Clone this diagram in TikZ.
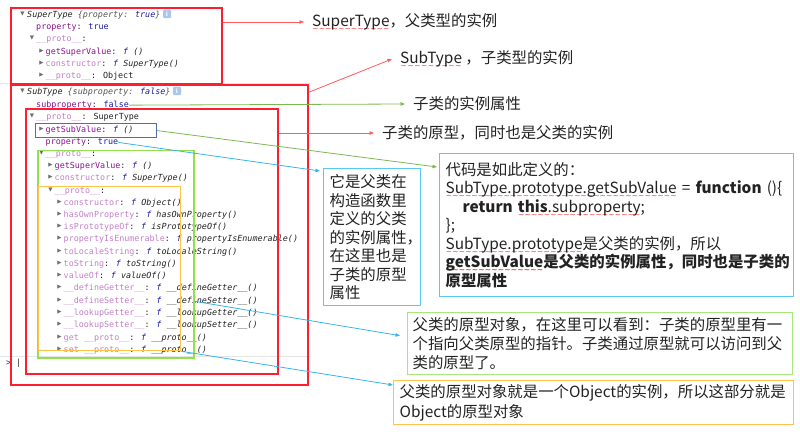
\documentclass[tikz,border=0pt]{standalone}
\usepackage{fontspec}
\usetikzlibrary{arrows.meta,calc}
\newfontfamily\cjk{Noto Sans CJK SC}
\newfontfamily\mono{DejaVu Sans Mono}
\newfontfamily\dejavu{DejaVu Sans}
\definecolor{ink}{HTML}{222222}
\definecolor{keypurple}{HTML}{881391}
\definecolor{keypink}{HTML}{C27FC6}
\definecolor{valblue}{HTML}{1A1AA6}
\definecolor{hgray}{HTML}{555555}
\definecolor{trigray}{HTML}{6E6E6E}
\definecolor{iconblue}{HTML}{A9C7EE}
\definecolor{boxred}{HTML}{FF1E2D}
\definecolor{linkred}{HTML}{FF5A60}
\definecolor{linkgreen}{HTML}{7CB850}
\definecolor{linkblue}{HTML}{36B4F0}
\definecolor{limebox}{HTML}{90E050}
\definecolor{notegreen}{HTML}{A6E87C}
\definecolor{orangebox}{HTML}{FFC24A}
\definecolor{notecyan}{HTML}{5AC8F5}
\definecolor{slatebox}{HTML}{4F6FA8}
\definecolor{sepgray}{HTML}{E4E4E4}
\definecolor{squig}{HTML}{F03A3A}
\newsavebox\sqbox
\newcommand\sperr[1]{\leavevmode\sbox\sqbox{#1}\rlap{\raisebox{-4.6pt}[0pt][0pt]{\textcolor{squig}{\hbox to \wd\sqbox{\dejavu\fontsize{7.5}{7.5}\selectfont\xleaders\hbox{∼}\hfill}}}}\usebox\sqbox}
\newcommand\pkey[1]{\textcolor{keypurple}{#1}}
\newcommand\npkey[1]{\textcolor{keypink}{#1}}
\newcommand\jsval[1]{\textcolor{valblue}{#1}}
\newcommand\jsfn[1]{\textcolor{valblue}{\textit{f}} \textit{#1}}
\begin{document}
\begin{tikzpicture}[x=1pt,y=-1pt,
  con/.style={anchor=base west, inner sep=0pt, text=ink, font=\mono\fontsize{8.4}{10}\selectfont},
  tri/.style={inner sep=0pt, text=trigray, font=\dejavu\fontsize{5.5}{6}\selectfont},
  info/.style={fill=iconblue, text=white, rounded corners=1.2pt, minimum width=8pt, minimum height=8.5pt, inner sep=0pt, font=\dejavu\bfseries\fontsize{6}{6}\selectfont},
  redbox/.style={draw=boxred, line width=2pt, anchor=north west, inner sep=0pt},
  note/.style={text=ink, font=\cjk\fontsize{15.4}{18.5}\selectfont},
  label/.style={note, anchor=west, inner xsep=8pt, inner ysep=0pt},
  notebox/.style={note, draw, line width=1.3pt, anchor=north west, align=left, inner xsep=6pt, inner ysep=2pt},
  redlink/.style={draw=linkred, line width=0.8pt, -{Triangle[length=4.5pt,width=3.5pt]}},
  greenlink/.style={draw=linkgreen, line width=0.8pt, -{Triangle[length=4.5pt,width=3.5pt]}},
  bluelink/.style={draw=linkblue, line width=0.8pt, -{Triangle[length=4.5pt,width=3.5pt]}}]
\useasboundingbox (0,0) rectangle (800,435);
\draw[sepgray] (0,83.5) -- (310,83.5);
\draw[sepgray] (0,356.5) -- (310,356.5);
\node[tri] (t01) at (22.5,14) {▼};
\node[con] (r01) at (27,17.5) {\textit{SuperType} \textcolor{hgray}{\textit{\{property: \jsval{true}\}}}};
\node[info] (i01) at (167,14) {i};
\node[con] (r02) at (36,29.5) {\pkey{property}: \jsval{true}};
\node[tri] (t03) at (32,38) {▼};
\node[con] (r03) at (36,41.5) {\npkey{\_\_proto\_\_}:};
\node[tri] (t04) at (41.5,51) {▶};
\node[con] (r04) at (45.5,54.5) {\pkey{getSuperValue}: \jsfn{()}};
\node[tri] (t05) at (41.5,63) {▶};
\node[con] (r05) at (45.5,66.5) {\npkey{constructor}: \jsfn{SuperType()}};
\node[tri] (t06) at (41.5,75) {▶};
\node[con] (r06) at (45.5,78.5) {\npkey{\_\_proto\_\_}: Object};
\node[tri] (t07) at (22.5,91) {▼};
\node[con] (r07) at (27,94.5) {\textit{SubType} \textcolor{hgray}{\textit{\{subproperty: \jsval{false}\}}}};
\node[info] (i07) at (177,91) {i};
\node[con] (r08) at (36,107.5) {\pkey{subproperty}: \jsval{false}};
\node[tri] (t09) at (32,116) {▼};
\node[con] (r09) at (36,119.5) {\npkey{\_\_proto\_\_}: SuperType};
\node[tri] (t10) at (41.5,129) {▶};
\node[con] (r10) at (45.5,132.5) {\pkey{getSubValue}: \jsfn{()}};
\node[con] (r11) at (45.5,144.5) {\pkey{property}: \jsval{true}};
\node[tri] (t12) at (41.5,153) {▼};
\node[con] (r12) at (45.5,156.5) {\npkey{\_\_proto\_\_}:};
\node[tri] (t13) at (50.5,165) {▶};
\node[con] (r13) at (54.5,168.5) {\pkey{getSuperValue}: \jsfn{()}};
\node[tri] (t14) at (50.5,177) {▶};
\node[con] (r14) at (54.5,180.5) {\npkey{constructor}: \jsfn{SuperType()}};
\node[tri] (t15) at (50.5,190) {▼};
\node[con] (r15) at (54.5,193.5) {\npkey{\_\_proto\_\_}:};
\node[tri] (t16) at (59.5,202) {▶};
\node[con] (r16) at (63.5,205.5) {\npkey{constructor}: \jsfn{Object()}};
\node[tri] (t17) at (59.5,214) {▶};
\node[con] (r17) at (63.5,217.5) {\npkey{hasOwnProperty}: \jsfn{hasOwnProperty()}};
\node[tri] (t18) at (59.5,226) {▶};
\node[con] (r18) at (63.5,229.5) {\npkey{isPrototypeOf}: \jsfn{isPrototypeOf()}};
\node[tri] (t19) at (59.5,238) {▶};
\node[con] (r19) at (63.5,241.5) {\npkey{propertyIsEnumerable}: \jsfn{propertyIsEnumerable()}};
\node[tri] (t20) at (59.5,251) {▶};
\node[con] (r20) at (63.5,254.5) {\npkey{toLocaleString}: \jsfn{toLocaleString()}};
\node[tri] (t21) at (59.5,263) {▶};
\node[con] (r21) at (63.5,266.5) {\npkey{toString}: \jsfn{toString()}};
\node[tri] (t22) at (59.5,275) {▶};
\node[con] (r22) at (63.5,278.5) {\npkey{valueOf}: \jsfn{valueOf()}};
\node[tri] (t23) at (59.5,287) {▶};
\node[con] (r23) at (63.5,290.5) {\npkey{\_\_defineGetter\_\_}: \jsfn{\_\_defineGetter\_\_()}};
\node[tri] (t24) at (59.5,300) {▶};
\node[con] (r24) at (63.5,303.5) {\npkey{\_\_defineSetter\_\_}: \jsfn{\_\_defineSetter\_\_()}};
\node[tri] (t25) at (59.5,312) {▶};
\node[con] (r25) at (63.5,315.5) {\npkey{\_\_lookupGetter\_\_}: \jsfn{\_\_lookupGetter\_\_()}};
\node[tri] (t26) at (59.5,324) {▶};
\node[con] (r26) at (63.5,327.5) {\npkey{\_\_lookupSetter\_\_}: \jsfn{\_\_lookupSetter\_\_()}};
\node[tri] (t27) at (59.5,337) {▶};
\node[con] (r27) at (63.5,340.5) {\npkey{get \_\_proto\_\_}: \jsfn{\_\_proto\_\_()}};
\node[tri] (t28) at (59.5,349) {▶};
\node[con] (r28) at (63.5,352.5) {\npkey{set \_\_proto\_\_}: \jsfn{\_\_proto\_\_()}};
\node[con, text=valblue] (prompt) at (6,365.5) {>};
\node[con] (cursor) at (16,366) {|};
\node[redbox, minimum width=211pt, minimum height=76pt] (bsup) at (10,7) {};
\node[redbox, minimum width=297pt, minimum height=300pt] (bsub) at (10,84) {};
\node[redbox, minimum width=252pt, minimum height=265pt] (bproto) at (25,108) {};
\node[draw=slatebox, line width=1.2pt, anchor=north west, inner sep=0pt, minimum width=121pt, minimum height=14pt] (bgsv) at (35,123) {};
\node[draw=limebox, line width=1.5pt, anchor=north west, inner sep=0pt, minimum width=156pt, minimum height=207pt] (bgreen) at (37,150) {};
\node[draw=orangebox, line width=1.3pt, anchor=north west, inner sep=0pt, minimum width=142pt, minimum height=164pt] (borange) at (38,186) {};
\node[label] (n1) at (304,22) {\sperr{SuperType}，父类型的实例};
\node[label] (n2) at (392,59) {\sperr{SubType} ，子类型的实例};
\node[label] (n3) at (405,104) {子类的实例属性};
\node[label] (n4) at (374,133) {子类的原型，同时也是父类的实例};
\node[notebox, draw=notecyan, text width=85pt, minimum height=137pt] (ninst) at (323,168) {它是父类在\\构造函数里\\定义的父类\\的实例属性\makebox[5pt][l]{，}\\在这里也是\\子类的原型\\属性};
\node[notebox, draw=notecyan, text width=342pt, minimum height=143pt] (ncode) at (439,153) {代码是如此定义的：\\\sperr{SubType.prototype.getSubValue} = \textbf{function} ()\{\\\hspace*{17pt}\textbf{return} \sperr{\textbf{this}.subproperty};\\\};\\\sperr{SubType.prototype}是父类的实例，所以\\\textbf{\sperr{getSubValue}是父类的实例属性，同时也是子类的}\\\textbf{原型属性}};
\node[notebox, draw=notegreen, text width=375pt, inner xsep=5pt, minimum height=62pt, font=\cjk\fontsize{15.4}{19}\selectfont] (ngreen) at (407,312) {父类的原型对象，在这里可以看到：子类的原型里有一\\个指向父类原型的指针。子类通过原型就可以访问到父\\类的原型了。};
\node[notebox, draw=orangebox, text width=388pt, minimum height=44pt, font=\cjk\fontsize{15.4}{20}\selectfont] (norange) at (393,380) {父类的原型对象就是一个Object的实例，所以这部分就是\\Object的原型对象};
\draw[redlink] (bsup.east |- n1) -- (n1.west);
\draw[redlink] (bsub.east |- r07) -- (n2.west);
\draw[greenlink] (r08.east) -- (n3.west);
\draw[redlink] (bproto.east |- n4) -- (n4.west);
\draw[greenlink] (bgsv.east) -- ($(ncode.north west)+(-2,14)$);
\draw[bluelink] (r11.east) -- ($(ninst.north west)+(-3,3)$);
\draw[bluelink] (bgreen.east |- r24) -- ($(ngreen.west)+(-7,-8)$);
\draw[bluelink] (borange.south east) -- ($(norange.north west)+(0,5)$);
\end{tikzpicture}
\end{document}
